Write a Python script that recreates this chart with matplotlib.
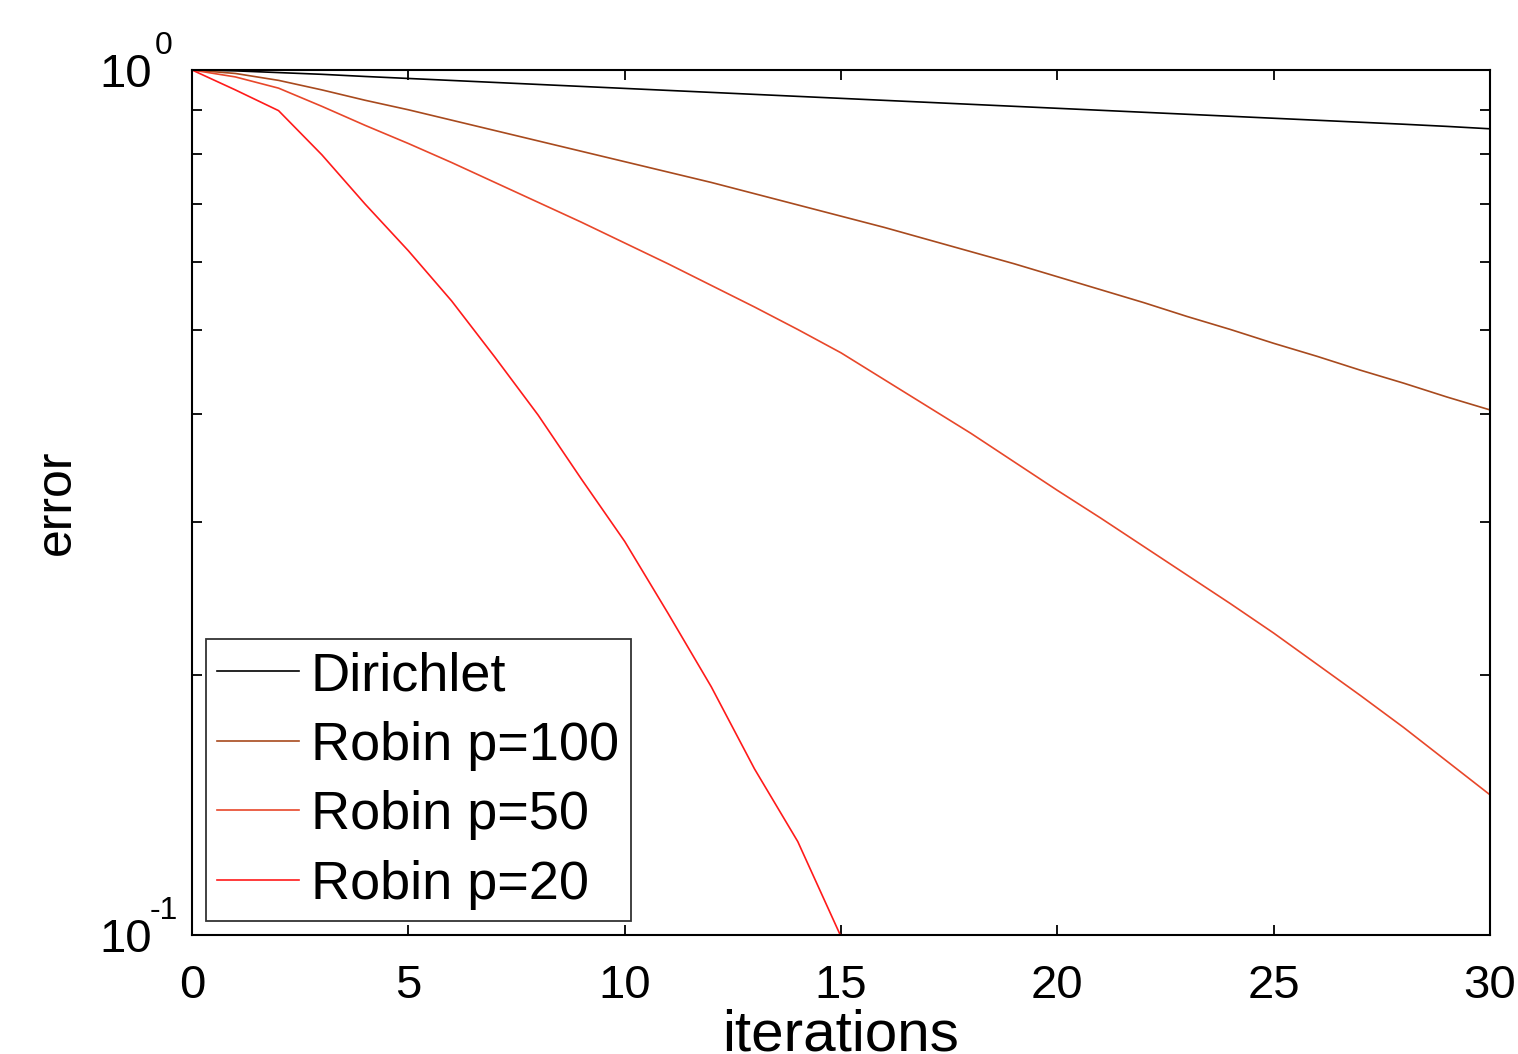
#!/usr/bin/python

"""
Error vs iterations for Dirichlet and Robin transmission conditions
"""

import numpy as np
import matplotlib
matplotlib.use("Agg")
from matplotlib import pyplot as plt
from matplotlib.ticker import FixedLocator, NullFormatter

plt.rcParams['font.family'] = ['Liberation Sans', 'DejaVu Sans']

# log10 of the error, one value per iteration
iters = list(range(0, 31))
dirichlet_log = [0.0, -0.001, -0.003, -0.005, -0.0075, -0.0098, -0.0121, -0.0144,
                 -0.0167, -0.019, -0.0213, -0.0236, -0.0259, -0.0282, -0.0305,
                 -0.0328, -0.0351, -0.0374, -0.0397, -0.042, -0.0443, -0.0466,
                 -0.0489, -0.0512, -0.0535, -0.0558, -0.0581, -0.0604, -0.0627,
                 -0.0652, -0.068]
robin100_log = [0.0, -0.004, -0.012, -0.023, -0.035, -0.046, -0.058, -0.070,
                -0.082, -0.094, -0.106, -0.118, -0.130, -0.143, -0.156, -0.169,
                -0.182, -0.196, -0.210, -0.224, -0.239, -0.254, -0.269, -0.285,
                -0.300, -0.316, -0.331, -0.347, -0.362, -0.378, -0.393]
robin50_log = [0.0, -0.008, -0.021, -0.042, -0.064, -0.085, -0.107, -0.130,
               -0.153, -0.176, -0.200, -0.224, -0.249, -0.274, -0.300, -0.327,
               -0.358, -0.389, -0.420, -0.453, -0.486, -0.518, -0.551, -0.584,
               -0.617, -0.651, -0.687, -0.723, -0.760, -0.799, -0.838]
iters20 = list(range(0, 16))
robin20_log = [0.0, -0.023, -0.047, -0.098, -0.155, -0.209, -0.267, -0.332,
               -0.399, -0.473, -0.545, -0.628, -0.713, -0.808, -0.892, -1.002]

labels = ["Dirichlet", "Robin p=100", "Robin p=50", "Robin p=20"]
colors = ["black", "#a84a1e", "#e8472a", "#ff1a1a"]

xticks = [0, 5, 10, 15, 20, 25, 30]
yticks = [0.1, 1.0]
yexps = ["-1", "0"]


def main():
    fig = plt.figure(figsize=(15.18, 10.54), dpi=100)
    ax = fig.add_axes([0.1265, 0.1129, 0.9816 - 0.1265, 0.9336 - 0.1129])

    series = [(iters, dirichlet_log), (iters, robin100_log),
              (iters, robin50_log), (iters20, robin20_log)]
    for (xs, ys), lab, col in zip(series, labels, colors):
        ax.semilogy(xs, 10 ** np.array(ys), color=col, lw=1.2, label=lab)

    ax.set_xlim(0, 30)
    ax.set_ylim(0.1, 1.0)

    ax.xaxis.set_major_locator(FixedLocator(xticks))
    ax.set_xticklabels([str(t) for t in xticks])
    ax.yaxis.set_major_locator(FixedLocator(yticks))
    ax.set_yticklabels(["10" for _ in yticks])
    ax.yaxis.set_minor_locator(FixedLocator([0.2, 0.3, 0.4, 0.5, 0.6, 0.7, 0.8, 0.9]))
    ax.yaxis.set_minor_formatter(NullFormatter())

    ax.tick_params(which="both", direction="in", top=True, right=True,
                   length=7, width=1.3, labelsize=34, color="black")
    ax.tick_params(axis="x", pad=21)
    ax.tick_params(axis="y", pad=29)
    # exponents of the y tick labels, MATLAB style
    for t, e in zip(yticks, yexps):
        ax.annotate(e, xy=(0, t), xycoords=("axes fraction", "data"),
                    xytext=(-28, 24), textcoords="offset pixels",
                    ha="center", va="center", fontsize=23)
    for sp in ax.spines.values():
        sp.set_linewidth(1.5)

    ax.set_xlabel("iterations", fontsize=42, labelpad=0)
    ax.set_ylabel("error", fontsize=36, labelpad=14)

    leg = ax.legend(loc="lower left", fontsize=39, frameon=True, fancybox=False,
                    edgecolor="black", handlelength=1.5, handletextpad=0.22,
                    borderaxespad=0.25, borderpad=0.22, labelspacing=0.36)
    leg.get_frame().set_linewidth(1.3)

    fig.savefig("out.png", dpi=100)


if __name__ == "__main__":
    main()
